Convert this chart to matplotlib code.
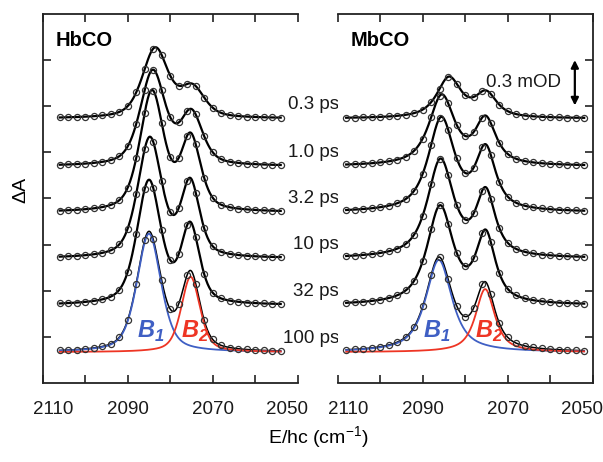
import numpy as np
import matplotlib
matplotlib.use('Agg')
import matplotlib.pyplot as plt
from matplotlib import transforms

plt.rcParams['font.family'] = ['Liberation Sans', 'DejaVu Sans']
plt.rcParams['mathtext.fontset'] = 'custom'
plt.rcParams['mathtext.rm'] = 'Liberation Sans'
plt.rcParams['mathtext.bf'] = 'Liberation Sans:bold:italic'

# delays and vertical offsets (mOD) of each trace
delays = ['0.3 ps', '1.0 ps', '3.2 ps', '10 ps', '32 ps', '100 ps']
offsets = [1.42, 1.11, 0.81, 0.51, 0.205, -0.10]

# band parameters: amplitude (mOD), centre, half width (cm-1)
hb_a1 = [0.45, 0.61, 0.775, 0.775, 0.80, 0.77]
hb_a2 = [0.19, 0.33, 0.47, 0.48, 0.50, 0.49]
hb_c1 = [2083.5, 2084.1, 2084.3, 2084.8, 2085.0, 2085.0]
hb_c2 = [2074.8, 2075.0, 2075.2, 2075.3, 2075.3, 2075.2]
hb_w1 = [3.6, 3.5, 3.35, 3.35, 3.35, 3.35]
hb_w2 = [3.4, 3.1, 2.8, 2.6, 2.6, 2.6]
hb_eta = 0.5

mb_a1 = [0.26, 0.45, 0.60, 0.63, 0.63, 0.60]
mb_a2 = [0.155, 0.29, 0.39, 0.41, 0.44, 0.41]
mb_c1 = [2083.8, 2085.5, 2085.6, 2085.8, 2085.9, 2086.2]
mb_c2 = [2075.1, 2075.2, 2075.2, 2075.2, 2075.2, 2075.3]
mb_w1 = [3.4, 3.6, 3.65, 3.65, 3.65, 3.65]
mb_w2 = [3.0, 2.9, 2.8, 2.7, 2.7, 2.7]
mb_eta = 0.8

# measured wavenumbers
hb_pts = np.arange(2106, 2053, -2)
mb_pts = np.arange(2108, 2051, -2)

blue = '#3f5fc4'
red = '#ee3524'


def band(x, a, c, w, eta):
    d = ((x - c) / w) ** 2
    return a * (eta / (1 + d) + (1 - eta) * np.exp(-np.log(2) * d))


fig = plt.figure(figsize=(6.03, 4.62), dpi=100)
ax1 = fig.add_axes([0.0708, 0.1703, 0.4229, 0.7994])
ax2 = fig.add_axes([0.5600, 0.1703, 0.4229, 0.7994])

panels = [
    (ax1, 'HbCO', hb_a1, hb_a2, hb_c1, hb_c2, hb_w1, hb_w2, hb_eta, hb_pts, 'left'),
    (ax2, 'MbCO', mb_a1, mb_a2, mb_c1, mb_c2, mb_w1, mb_w2, mb_eta, mb_pts, 'right'),
]

for ax, name, a1, a2, c1, c2, w1, w2, eta, pts, side in panels:
    xf = np.linspace(pts[0], pts[-1], 400)
    for i in range(len(delays)):
        off = offsets[i]
        b1 = band(xf, a1[i], c1[i], w1[i], eta)
        b2 = band(xf, a2[i], c2[i], w2[i], eta)
        yp = off + band(pts, a1[i], c1[i], w1[i], eta) + band(pts, a2[i], c2[i], w2[i], eta)
        last = i == len(delays) - 1
        ax.plot(xf, off + b1 + b2, color='black', lw=1.1 if last else 1.6, zorder=3)
        if last:
            ax.plot(xf, off + b1, color=blue, lw=1.3, zorder=3.5)
            ax.plot(xf, off + b2, color=red, lw=1.3, zorder=3.5)
        ax.plot(pts, yp, 'o', ms=4.4, mfc='none', mec='#333333', mew=0.9, zorder=4)

    ax.set_xlim(2110, 2050)
    ax.set_ylim(-0.303, 2.10)
    ax.set_xticks(np.arange(2110, 2049, -10))
    ax.set_xticklabels([])
    ax.set_yticks(np.arange(0, 1.81, 0.3))
    ax.set_yticklabels([])
    ax.tick_params(axis='x', which='both', direction='in', length=6, width=1.2,
                   top=True, bottom=True, color='#222222')
    if side == 'left':
        ax.spines['right'].set_visible(False)
        ax.tick_params(axis='y', direction='in', length=6, width=1.2,
                       left=True, right=False, color='#222222')
    else:
        ax.spines['left'].set_visible(False)
        ax.tick_params(axis='y', direction='in', length=6, width=1.2,
                       left=False, right=True, color='#222222')
    for s in ax.spines.values():
        s.set_linewidth(1.3)
        s.set_color('#222222')

    # tick labels (end labels sit inside the frame ends)
    for val, dx in [(2110, -2.5), (2090, 0), (2070, 0), (2050, 2.5)]:
        ax.text(val + dx, -0.42, str(val), ha='center', va='top', fontsize=13.5,
                color='#1a1a1a', clip_on=False)

    ax.text(0.05, 0.955, name, transform=ax.transAxes, fontsize=14.5,
            fontweight='bold', va='top', ha='left')

# component labels
for ax, x1, x2 in [(ax1, 2084.5, 2074.2), (ax2, 2086.6, 2074.4)]:
    ax.text(x1, -0.045, '$\\mathbf{B}_\\mathbf{1}$', color=blue, fontsize=17,
            ha='center', va='bottom', zorder=5)
    ax.text(x2, -0.045, '$\\mathbf{B}_\\mathbf{2}$', color=red, fontsize=17,
            ha='center', va='bottom', zorder=5)

# delay labels between panels
trans = transforms.blended_transform_factory(ax1.transAxes, ax1.transData)
for lab, off in zip(delays, offsets):
    ax1.text(1.162, off + 0.09, lab, transform=trans, ha='right', va='center',
             fontsize=13.5, color='#1a1a1a', clip_on=False)

# scale bar
ax2.annotate('', xy=(2054.2, 1.80), xytext=(2054.2, 1.505),
             arrowprops=dict(arrowstyle='<|-|>', color='black', lw=1.6,
                             mutation_scale=11, shrinkA=0, shrinkB=0))
ax2.text(2057.5, 1.655, '0.3 mOD', ha='right', va='center', fontsize=13.5,
         color='#1a1a1a')

fig.text(0.035, 0.589, '\u0394A', rotation=90, ha='center', va='center', fontsize=14)
fig.text(0.527, 0.052, 'E/hc (cm$^{-1}$)', ha='center', va='center', fontsize=14)

fig.savefig('out.png', dpi=100)
